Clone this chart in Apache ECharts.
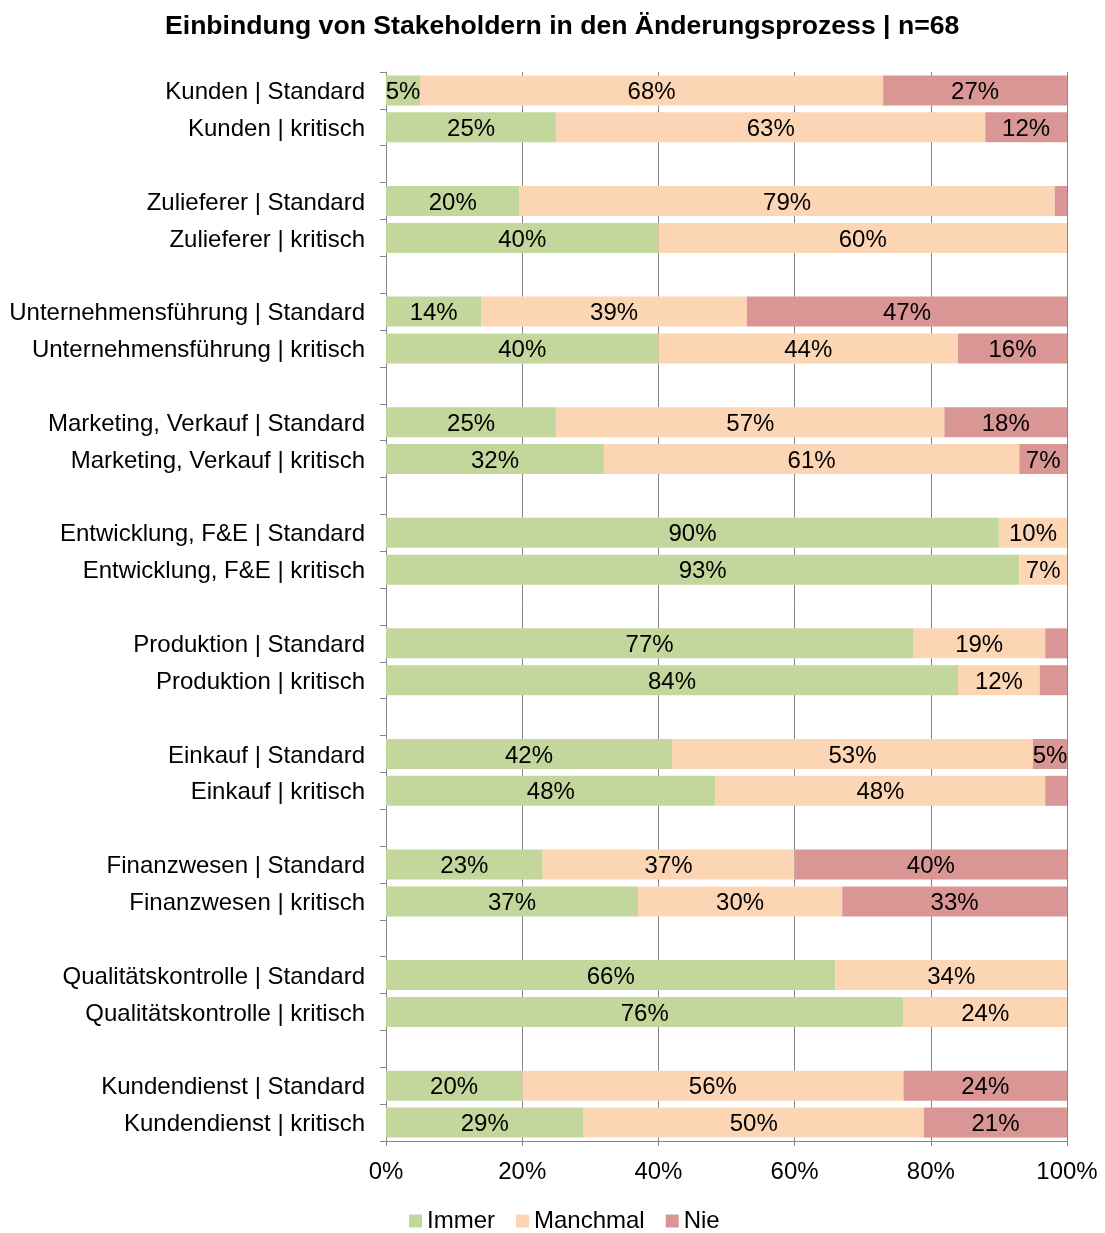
<!DOCTYPE html>
<html>
<head>
<meta charset="utf-8">
<script src="https://cdn.jsdelivr.net/npm/echarts@6/dist/echarts.min.js"></script>
<style>
    html, body { margin: 0; padding: 0; background: #fff; }
    #mainChart { width: 1105px; height: 1233px; }
</style>
</head>
<body>
<div id="mainChart"></div>
<script>
// Kategorien (leere Eintraege = Abstand zwischen Gruppen)
var categories = [
    "Kunden | Standard", "Kunden | kritisch", "",
    "Zulieferer | Standard", "Zulieferer | kritisch", "",
    "Unternehmensführung | Standard", "Unternehmensführung | kritisch", "",
    "Marketing, Verkauf | Standard", "Marketing, Verkauf | kritisch", "",
    "Entwicklung, F&E | Standard", "Entwicklung, F&E | kritisch", "",
    "Produktion | Standard", "Produktion | kritisch", "",
    "Einkauf | Standard", "Einkauf | kritisch", "",
    "Finanzwesen | Standard", "Finanzwesen | kritisch", "",
    "Qualitätskontrolle | Standard", "Qualitätskontrolle | kritisch", "",
    "Kundendienst | Standard", "Kundendienst | kritisch"
];
var immer = [5, 25, "-", 19.6, 40, "-", 14, 40, "-", 25, 32, "-", 90, 93, "-", 77.4, 84, "-", 42, 48.4, "-", 23, 37, "-", 66, 76, "-", 20, 29];
var manchmal = [68, 63, "-", 78.6, 60, "-", 39, 44, "-", 57, 61, "-", 10, 7, "-", 19.4, 12, "-", 53, 48.4, "-", 37, 30, "-", 34, 24, "-", 56, 50];
var nie = [27, 12, "-", 1.8, 0, "-", 47, 16, "-", 18, 7, "-", 0, 0, "-", 3.2, 4, "-", 5, 3.2, "-", 40, 33, "-", 0, 0, "-", 24, 21];
var xTicks = ["0%", "20%", "40%", "60%", "80%", "100%"];

var FONT = "Liberation Sans, Arial, sans-serif";
var GRAY = "#868686";

function barLabel() {
    return {
        show: true,
        position: "inside",
        offset: [0, 2],
        color: "#000",
        fontSize: 24,
        fontFamily: FONT,
        formatter: function (p) {
            return p.value >= 4.5 ? Math.round(p.value) + "%" : "";
        }
    };
}

var n = echarts.init(document.getElementById("mainChart"));
n.setOption({
    backgroundColor: "#fff",
    animation: false,
    title: {
        text: "Einbindung von Stakeholdern in den Änderungsprozess | n=68",
        left: 160,
        top: 8,
        textStyle: { color: "#000", fontSize: 26.6, fontWeight: "bold", fontFamily: FONT }
    },
    legend: {
        data: ["Immer", "Manchmal", "Nie"],
        left: 409,
        top: 1209,
        padding: 0,
        itemWidth: 13,
        itemHeight: 13,
        itemGap: 21,
        icon: "rect",
        textStyle: { color: "#000", fontSize: 24, fontFamily: FONT }
    },
    grid: { left: 386, right: 38, top: 72, bottom: 92, containLabel: false },
    xAxis: {
        type: "value",
        min: 0,
        max: 100,
        interval: 20,
        axisLine: { show: true, lineStyle: { color: GRAY, width: 1 } },
        axisTick: { show: true, length: 5, lineStyle: { color: GRAY } },
        splitLine: { show: true, lineStyle: { color: GRAY, width: 1 } },
        axisLabel: {
            color: "#000", fontSize: 24, fontFamily: FONT, margin: 19,
            formatter: function (v) { return xTicks[v / 20]; }
        }
    },
    yAxis: {
        type: "category",
        inverse: true,
        data: categories,
        axisLine: { show: true, lineStyle: { color: GRAY, width: 1 } },
        axisTick: { show: true, length: 6, lineStyle: { color: GRAY } },
        axisLabel: {
            margin: 21, interval: 0,
            formatter: function (v) { return v ? "{a|" + v + "}" : ""; },
            rich: { a: { color: "#000", fontSize: 24, fontFamily: FONT, padding: [4, 0, 0, 0] } }
        }
    },
    series: [
        { name: "Immer", type: "bar", stack: "s", barWidth: 30, data: immer,
          itemStyle: { color: "#C3D69B" }, label: barLabel() },
        { name: "Manchmal", type: "bar", stack: "s", barWidth: 30, data: manchmal,
          itemStyle: { color: "#FCD5B5" }, label: barLabel() },
        { name: "Nie", type: "bar", stack: "s", barWidth: 30, data: nie,
          itemStyle: { color: "#D99694" }, label: barLabel() }
    ]
});
</script>
</body>
</html>
